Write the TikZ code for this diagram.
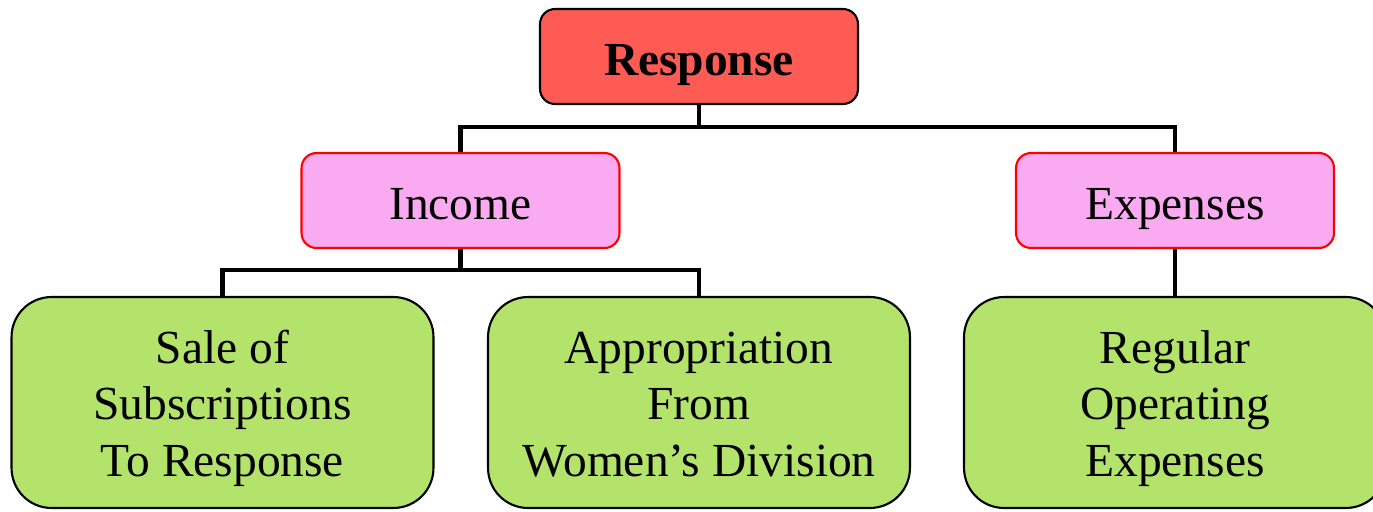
\documentclass[tikz,border=0pt]{standalone}
\usepackage{fontspec}
\setmainfont{Liberation Serif}
\definecolor{redfill}{HTML}{FF5B55}
\definecolor{pinkfill}{HTML}{F9AAF0}
\definecolor{greenfill}{HTML}{B3E36A}
\newcommand{\topstrut}{\rule{0pt}{25.8pt}}
\newcommand{\botstrut}{\rule[-6pt]{0pt}{6pt}}
\begin{document}
\begin{tikzpicture}[x=0.02cm,y=-0.02cm,
  toptext/.style={font=\fontsize{27}{32.3}\selectfont},
  topbox/.style={draw=black,line width=1.2pt,fill=redfill,rounded corners=0.3cm,
     minimum width=6.36cm,minimum height=1.9cm,inner sep=0pt,align=center,toptext,
     text height=0.74cm,text depth=0cm},
  midbox/.style={draw=red,line width=1.2pt,fill=pinkfill,rounded corners=0.3cm,
     minimum width=6.36cm,minimum height=1.9cm,inner sep=0pt,align=center,toptext,
     text height=0.74cm,text depth=0cm},
  leafbox/.style={draw=black,line width=1.2pt,fill=greenfill,rounded corners=0.8cm,
     minimum width=8.44cm,minimum height=4.22cm,inner sep=0pt,align=center,toptext},
  conn/.style={line width=2.8pt,black}]
\useasboundingbox (0,0) rectangle (1373,511);
\clip (0,0) rectangle (1373,511);
\node[topbox] (resp) at (699,56.5) {\bfseries Response};
\node[midbox] (inc) at (460.5,200.5) {Income};
\node[midbox] (exp) at (1175,200.5) {Expenses};
\node[leafbox] (sale) at (222.5,402.5) {\topstrut Sale of\\Subscriptions\\To Response\botstrut};
\node[leafbox] (appr) at (699,402.5) {\topstrut Appropriation\\From\\Women’s Division\botstrut};
\node[leafbox] (reg) at (1175,402.5) {\topstrut Regular\\Operating\\Expenses\botstrut};
\coordinate (j1) at (699,127);
\coordinate (j2) at (460.5,270);
\draw[conn] (resp.south) -- (j1);
\draw[conn] (j1) -| (inc.north);
\draw[conn] (j1) -| (exp.north);
\draw[conn] (inc.south) -- (j2);
\draw[conn] (j2) -| (sale.north);
\draw[conn] (j2) -| (appr.north);
\draw[conn] (exp.south) -- (reg.north);
\end{tikzpicture}
\end{document}
